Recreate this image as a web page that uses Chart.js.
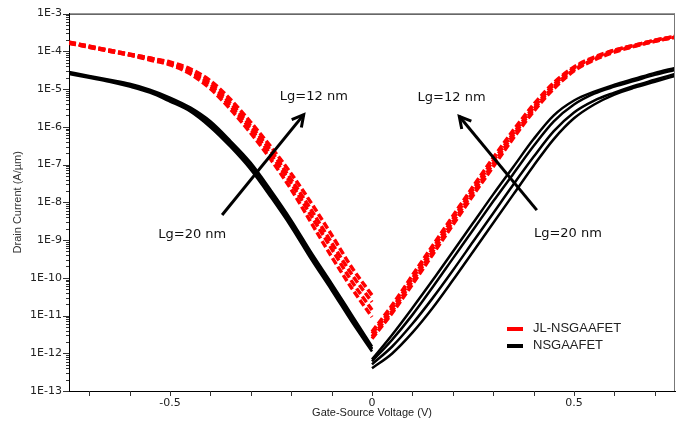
<!DOCTYPE html>
<html><head><meta charset="utf-8">
<script src="https://cdn.jsdelivr.net/npm/chart.js@4.4.1/dist/chart.umd.min.js"></script>
<style>html,body{margin:0;padding:0;background:#fff;}</style>
</head><body>
<canvas id="c" width="689" height="423"></canvas>
<script>
// ---- data (Vgs in V, drain current in A/um) ----
const vLeft  = [-0.75,-0.70,-0.65,-0.60,-0.55,-0.50,-0.45,-0.40,-0.35,-0.30,-0.25,-0.20,-0.15,-0.10,-0.05,0];
const vRight = [0,0.05,0.10,0.15,0.20,0.25,0.30,0.35,0.40,0.45,0.50,0.55,0.60,0.65,0.70,0.75];

// JL-NSGAAFET (red dashed), shortest Lg first
const redL1 = [1.74e-4,1.37e-4,1.07e-4,8.45e-5,6.64e-5,5.21e-5,3.42e-5,1.66e-5,5.28e-6,1.32e-6,2.92e-7,5.74e-8,9.42e-9,1.37e-9,1.87e-10,3.46e-11];
const redL2 = [1.74e-4,1.37e-4,1.07e-4,8.45e-5,6.64e-5,4.91e-5,3.03e-5,1.38e-5,4.15e-6,1.04e-6,2.30e-7,4.00e-8,6.18e-9,8.45e-10,1.23e-10,2.27e-11];
const redL3 = [1.64e-4,1.29e-4,1.01e-4,7.96e-5,6.25e-5,4.62e-5,2.85e-5,1.23e-5,3.46e-6,8.65e-7,1.81e-7,3.14e-8,4.31e-9,5.89e-10,8.05e-11,1.40e-11];
const redL4 = [1.64e-4,1.29e-4,1.01e-4,7.96e-5,5.89e-5,4.36e-5,2.53e-5,1.02e-5,2.89e-6,6.79e-7,1.34e-7,2.19e-8,2.82e-9,3.63e-10,5.28e-11,9.18e-12];
const redR1 = [3.72e-12,1.89e-11,1.16e-10,7.05e-10,4.31e-9,2.62e-8,1.51e-7,8.15e-7,3.91e-6,1.47e-5,3.85e-5,7.05e-5,1.07e-4,1.45e-4,1.96e-4,2.50e-4];
const redR2 = [3.30e-12,1.58e-11,9.64e-11,5.89e-10,3.59e-9,2.19e-8,1.26e-7,6.79e-7,3.26e-6,1.30e-5,3.63e-5,6.64e-5,1.07e-4,1.45e-4,1.96e-4,2.50e-4];
const redR3 = [2.75e-12,1.32e-11,8.05e-11,4.91e-10,2.99e-9,1.83e-8,1.05e-7,6.03e-7,2.89e-6,1.16e-5,3.22e-5,6.25e-5,1.01e-4,1.37e-4,1.85e-4,2.36e-4];
const redR4 = [2.44e-12,1.17e-11,6.71e-11,4.10e-10,2.50e-9,1.52e-8,8.75e-8,5.04e-7,2.56e-6,1.02e-5,3.03e-5,5.89e-5,9.53e-5,1.37e-4,1.85e-4,2.36e-4];

// NSGAAFET (black solid)
const blkL1 = [2.85e-5,2.24e-5,1.76e-5,1.38e-5,9.64e-6,5.96e-6,3.26e-6,1.40e-6,4.20e-7,1.11e-7,2.06e-8,3.38e-9,4.62e-10,7.13e-11,1.04e-11,1.51e-12];
const blkL2 = [2.69e-5,2.11e-5,1.66e-5,1.30e-5,9.08e-6,5.61e-6,3.07e-6,1.24e-6,3.72e-7,9.89e-8,1.83e-8,2.99e-9,4.10e-10,6.32e-11,9.18e-12,1.34e-12];
const blkL3 = [2.69e-5,2.11e-5,1.66e-5,1.23e-5,8.55e-6,4.97e-6,2.72e-6,1.10e-6,3.30e-7,8.24e-8,1.52e-8,2.50e-9,3.42e-10,5.28e-11,7.67e-12,1.26e-12];
const blkL4 = [2.53e-5,1.99e-5,1.56e-5,1.16e-5,8.05e-6,4.68e-6,2.56e-6,9.77e-7,2.92e-7,7.31e-8,1.35e-8,2.22e-9,3.03e-10,4.68e-11,6.79e-12,1.11e-12];
const blkR1 = [6.89e-13,3.10e-12,1.58e-11,8.55e-11,4.91e-10,2.82e-9,1.62e-8,8.75e-8,4.73e-7,2.01e-6,4.97e-6,8.55e-6,1.30e-5,1.87e-5,2.69e-5,3.63e-5];
const blkR2 = [6.10e-13,2.30e-12,1.04e-11,5.61e-11,3.22e-10,1.85e-9,1.06e-8,5.74e-8,3.10e-7,1.40e-6,3.91e-6,7.59e-6,1.16e-5,1.66e-5,2.38e-5,3.22e-5];
const blkR3 = [5.09e-13,1.51e-12,6.03e-12,2.89e-11,1.56e-10,8.97e-10,5.15e-9,2.96e-8,1.60e-7,7.67e-7,2.41e-6,4.97e-6,8.05e-6,1.23e-5,1.76e-5,2.53e-5];
const blkR4 = [4.00e-13,9.89e-13,3.51e-12,1.58e-11,8.55e-11,4.91e-10,2.82e-9,1.62e-8,9.31e-8,4.73e-7,1.68e-6,3.91e-6,7.13e-6,1.09e-5,1.56e-5,2.24e-5];

// ticks
const xTickValues = [-0.5, 0, 0.5];
const xTickLabels = ['-0.5', '0', '0.5'];
const xMinorTicks = [-0.7,-0.6,-0.5,-0.4,-0.3,-0.2,-0.1,0,0.1,0.2,0.3,0.4,0.5,0.6,0.7];
const yTickValues = [1e-13,1e-12,1e-11,1e-10,1e-9,1e-8,1e-7,1e-6,1e-5,1e-4,1e-3];
const yTickLabels = ['1E-13','1E-12','1E-11','1E-10','1E-9','1E-8','1E-7','1E-6','1E-5','1E-4','1E-3'];
const yMinorMult = [2,3,4,5,6,7,8,9];

const seriesNames = ['JL-NSGAAFET', 'NSGAAFET'];
const xTitle = 'Gate-Source Voltage (V)';
const yTitle = 'Drain Current (A/\u00b5m)';

// annotations (data coordinates)
const arrows = [
  {from: [-0.371, 4.6e-9], to: [-0.169, 2.1e-6]},
  {from: [0.408, 6.2e-9],  to: [0.216, 1.9e-6]}
];
const notes = [
  {text: 'Lg=12 nm', at: [-0.144, 6.3e-6]},
  {text: 'Lg=20 nm', at: [-0.445, 1.4e-9]},
  {text: 'Lg=12 nm', at: [0.197, 5.9e-6]},
  {text: 'Lg=20 nm', at: [0.485, 1.45e-9]}
];

// ---- build datasets ----
const pts = (xs, ys) => xs.map((x, i) => ({x, y: ys[i]}));
const red = '#ff0000', black = '#000000';
const datasets = [];
[[vLeft, redL1],[vLeft, redL2],[vLeft, redL3],[vLeft, redL4],
 [vRight, redR1],[vRight, redR2],[vRight, redR3],[vRight, redR4]].forEach(([xs, ys]) => {
  datasets.push({label: seriesNames[0], data: pts(xs, ys), borderColor: red, borderWidth: 3.5,
    borderDash: [7, 3], showLine: true, pointRadius: 0, fill: false});
});
[[vLeft, blkL1],[vLeft, blkL2],[vLeft, blkL3],[vLeft, blkL4],
 [vRight, blkR1],[vRight, blkR2],[vRight, blkR3],[vRight, blkR4]].forEach(([xs, ys]) => {
  datasets.push({label: seriesNames[1], data: pts(xs, ys), borderColor: black, borderWidth: 2.5,
    showLine: true, pointRadius: 0, fill: false});
});

const decor = {
  id: 'decor',
  afterDraw(chart) {
    const ctx = chart.ctx, xs = chart.scales.x, ys = chart.scales.y, ca = chart.chartArea;
    ctx.save();
    // frame top/right
    ctx.lineWidth = 1;
    ctx.strokeStyle = '#000';
    ctx.beginPath(); ctx.moveTo(ca.left, ca.top + 0.5); ctx.lineTo(ca.right, ca.top + 0.5); ctx.stroke();
    ctx.strokeStyle = '#777';
    ctx.beginPath(); ctx.moveTo(ca.right - 0.5, ca.top); ctx.lineTo(ca.right - 0.5, ca.bottom); ctx.stroke();
    // y tick marks
    ctx.strokeStyle = '#333';
    yTickValues.forEach((v, i) => {
      let y = Math.round(ys.getPixelForValue(v)) + 0.5;
      ctx.beginPath(); ctx.moveTo(ca.left - 6, y); ctx.lineTo(ca.left, y); ctx.stroke();
      if (i < yTickValues.length - 1) {
        yMinorMult.forEach(m => {
          const yy = Math.round(ys.getPixelForValue(v * m)) + 0.5;
          ctx.beginPath(); ctx.moveTo(ca.left - 3, yy); ctx.lineTo(ca.left, yy); ctx.stroke();
        });
      }
    });
    // x tick marks
    xMinorTicks.forEach(v => {
      const x = Math.round(xs.getPixelForValue(v)) + 0.5;
      ctx.beginPath(); ctx.moveTo(x, ca.bottom); ctx.lineTo(x, ca.bottom + 5); ctx.stroke();
    });
    // arrows
    ctx.strokeStyle = '#000'; ctx.lineWidth = 3; ctx.lineCap = 'butt';
    arrows.forEach(a => {
      const x1 = xs.getPixelForValue(a.from[0]), y1 = ys.getPixelForValue(a.from[1]);
      const x2 = xs.getPixelForValue(a.to[0]), y2 = ys.getPixelForValue(a.to[1]);
      ctx.beginPath(); ctx.moveTo(x1, y1); ctx.lineTo(x2, y2); ctx.stroke();
      const ang = Math.atan2(y2 - y1, x2 - x1), L = 13, w = 0.5;
      ctx.beginPath();
      ctx.moveTo(x2 - L * Math.cos(ang - w), y2 - L * Math.sin(ang - w));
      ctx.lineTo(x2, y2);
      ctx.lineTo(x2 - L * Math.cos(ang + w), y2 - L * Math.sin(ang + w));
      ctx.stroke();
    });
    // notes
    ctx.fillStyle = '#111';
    ctx.font = '13px "DejaVu Sans"';
    ctx.textAlign = 'center'; ctx.textBaseline = 'middle';
    notes.forEach(n => {
      ctx.fillText(n.text, xs.getPixelForValue(n.at[0]), ys.getPixelForValue(n.at[1]));
    });
    // legend
    const lx = ca.right - 168, ly1 = ca.bottom - 62, ly2 = ca.bottom - 45;
    ctx.lineWidth = 4;
    ctx.strokeStyle = red;
    ctx.beginPath(); ctx.moveTo(lx, ly1); ctx.lineTo(lx + 16, ly1); ctx.stroke();
    ctx.strokeStyle = black;
    ctx.beginPath(); ctx.moveTo(lx, ly2); ctx.lineTo(lx + 16, ly2); ctx.stroke();
    ctx.fillStyle = '#222';
    ctx.font = '13px "Liberation Sans"';
    ctx.textAlign = 'left';
    ctx.fillText(seriesNames[0], lx + 26, ly1 - 1);
    ctx.fillText(seriesNames[1], lx + 26, ly2 - 1);
    ctx.restore();
  }
};

new Chart(document.getElementById('c'), {
  type: 'scatter',
  data: {datasets},
  options: {
    responsive: false, animation: false, devicePixelRatio: 1,
    layout: {padding: {left: 0, right: 14, top: 8, bottom: 0}},
    plugins: {legend: {display: false}, tooltip: {enabled: false}},
    elements: {line: {cubicInterpolationMode: 'monotone'}},
    scales: {
      x: {
        type: 'linear', min: -0.75, max: 0.75,
        afterBuildTicks: s => { s.ticks = xTickValues.map(v => ({value: v})); },
        afterFit: s => { s.height = 32; },
        grid: {display: false, drawTicks: false},
        border: {display: true, color: '#000', width: 1},
        ticks: {autoSkip: false, maxRotation: 0, padding: 6, color: '#222',
          font: {family: 'DejaVu Sans', size: 11},
          callback: (v, i) => xTickLabels[i]},
        title: {display: true, text: xTitle, color: '#222',
          font: {family: 'Liberation Sans', size: 11}, padding: {top: 0, bottom: 3}}
      },
      y: {
        type: 'logarithmic', min: 1e-13, max: 1e-3,
        afterBuildTicks: s => { s.ticks = yTickValues.map(v => ({value: v})); },
        afterFit: s => { s.width = 69; },
        grid: {display: false, drawTicks: false},
        border: {display: true, color: '#000', width: 1},
        ticks: {autoSkip: false, padding: 7, color: '#222',
          font: {family: 'DejaVu Sans', size: 11},
          callback: (v, i) => yTickLabels[i]},
        title: {display: true, text: yTitle, color: '#333',
          font: {family: 'Liberation Sans', size: 11}, padding: {top: 11, bottom: 0}}
      }
    }
  },
  plugins: [decor]
});
</script>
</body></html>
